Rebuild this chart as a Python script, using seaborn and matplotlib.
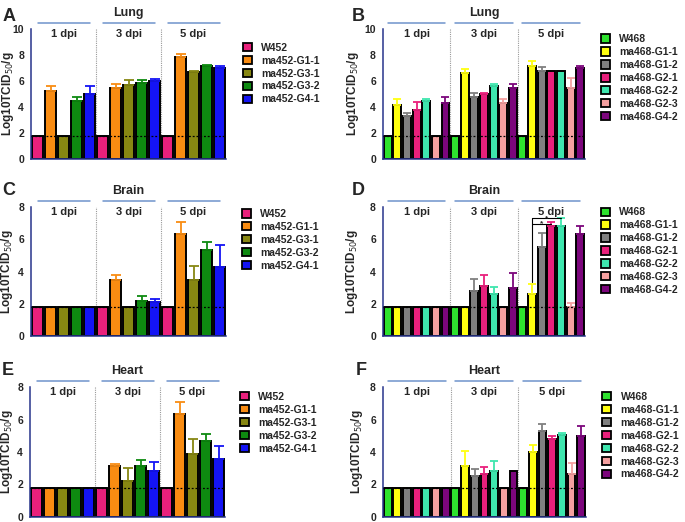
#VIRUS TITERS IN ORGANS - ma452 / ma468 PANELS

import pandas as pd
import matplotlib.pyplot as plt
import seaborn as sns
import numpy as np
from matplotlib.patches import Patch

sns.set_style("white")
plt.rcParams['font.family'] = ['Liberation Sans', 'DejaVu Sans']

#--------------------------------------------------------------------
# DATA

dpi_labels = ["1 dpi", "3 dpi", "5 dpi"]

groups452 = ["W452", "ma452-G1-1", "ma452-G3-1", "ma452-G3-2", "ma452-G4-1"]
colors452 = ["#e9207c", "#f98c12", "#878712", "#0e8a10", "#1414f5"]

groups468 = ["W468", "ma468-G1-1", "ma468-G1-2", "ma468-G2-1",
             "ma468-G2-2", "ma468-G2-3", "ma468-G4-2"]
colors468 = ["#2ee22e", "#ffff10", "#808080", "#e9207c",
             "#3ee6ae", "#f5a0a0", "#7c067c"]

# means, ordered 1 dpi / 3 dpi / 5 dpi
lung452_mean = [1.8, 5.2, 1.8, 4.5, 5.0,
                1.8, 5.5, 5.7, 5.85, 6.0,
                1.8, 7.85, 6.7, 7.15, 7.0]
lung452_sd = [0, 0.4, 0, 0.3, 0.6,
              0, 0.3, 0.35, 0.2, 0.15,
              0, 0.25, 0.1, 0.1, 0.15]

brain452_mean = [1.8, 1.8, 1.8, 1.8, 1.8,
                 1.8, 3.46, 1.8, 2.16, 2.14,
                 1.8, 6.33, 3.46, 5.33, 4.3]
brain452_sd = [0, 0, 0, 0, 0,
               0, 0.34, 0, 0.33, 0.16,
               0, 0.74, 0.9, 0.5, 1.32]

heart452_mean = [1.8, 1.8, 1.8, 1.8, 1.8,
                 1.8, 3.14, 2.2, 3.14, 2.85,
                 1.8, 6.34, 3.86, 4.68, 3.55]
heart452_sd = [0, 0, 0, 0, 0,
               0, 0.15, 0.8, 0.35, 0.55,
               0, 0.74, 0.96, 0.42, 0.85]

lung468_mean = [1.8, 4.15, 3.3, 3.8, 4.5, 1.8, 4.3,
                1.8, 6.65, 4.8, 5.0, 5.65, 4.3, 5.5,
                1.8, 7.15, 6.8, 6.8, 6.8, 5.5, 7.0]
lung468_sd = [0, 0.45, 0.25, 0.6, 0.1, 0, 0.5,
              0, 0.3, 0.25, 0.1, 0.1, 0.3, 0.3,
              0, 0.4, 0.25, 0, 0, 0.7, 0.15]

brain468_mean = [1.8, 1.8, 1.8, 1.8, 1.8, 1.8, 1.8,
                 1.8, 1.8, 2.8, 3.1, 2.63, 1.8, 2.95,
                 1.8, 2.63, 5.5, 6.83, 6.83, 1.8, 6.3]
brain468_sd = [0, 0, 0, 0, 0, 0, 0,
               0, 0, 0.75, 0.7, 0.42, 0, 0.95,
               0, 0.6, 0.9, 0.27, 0.47, 0.25, 0.55]

heart468_mean = [1.8, 1.8, 1.8, 1.8, 1.8, 1.8, 1.8,
                 1.8, 3.15, 2.5, 2.63, 2.84, 1.8, 2.82,
                 1.8, 3.97, 5.29, 4.8, 5.07, 2.62, 5.0]
heart468_sd = [0, 0, 0, 0, 0, 0, 0,
               0, 0.9, 0.45, 0.47, 0.59, 0, 0,
               0, 0.46, 0.44, 0.2, 0.13, 0.68, 0.6]

detect_limit = 1.8

# significance brackets in panel D (bar index from, bar index to, height)
sig_brackets = [(15, 18, 7.3), (15, 17, 6.98)]

#--------------------------------------------------------------------
# PANEL FUNCTION

navy = "#27348b"

def draw_panel(ax, organ, groups, colors, means, sds, ymax, leg_top, leg_left, cap):
    n = len(means)
    k = len(groups)
    names = [g + " " + d for d in dpi_labels for g in groups]
    bar_colors = colors * 3
    df = pd.DataFrame({"bar": names, "value": means})
    sns.barplot(data=df, x="bar", y="value", hue="bar", order=names,
                palette=dict(zip(names, bar_colors)), legend=False,
                width=0.82, edgecolor="black", linewidth=1.4,
                saturation=1, errorbar=None, ax=ax)

    # upper error bars only
    for i in range(n):
        if sds[i] > 0:
            ax.errorbar(i, means[i], yerr=[[0], [sds[i]]], fmt="none",
                        ecolor=bar_colors[i], elinewidth=1.3,
                        capsize=cap, capthick=1.3, zorder=1)

    ax.axhline(detect_limit, color="black", linestyle=(0, (1.5, 1.5)),
               linewidth=0.9, zorder=5)
    for j in range(1, 3):
        ax.axvline(j * k - 0.5, color="#9a9a9a", linestyle=(0, (1, 1)),
                   linewidth=0.8, zorder=0)

    # dpi header lines and labels
    for j in range(3):
        x0 = j * k
        x1 = j * k + k - 1
        ax.plot([x0, x1], [1.046, 1.046], color="#6f93cc", linewidth=1.1,
                transform=ax.get_xaxis_transform(), clip_on=False)
        ax.text((x0 + x1) / 2, 0.965, dpi_labels[j], ha="center", va="center",
                fontsize=8, fontweight="bold",
                transform=ax.get_xaxis_transform())

    ax.set_title(organ, fontsize=9, fontweight="bold", y=1.1, pad=0)

    ax.set_xlim(-0.5, n - 0.5)
    ax.set_ylim(0, ymax)
    ax.set_yticks(np.arange(0, ymax + 1, 2))
    ax.set_xticks(range(n))
    ax.set_xticklabels([""] * n)
    ax.set_xlabel("")
    ax.set_ylabel("Log10TCID$_{50}$/g", fontsize=8.5, fontweight="bold")
    for lab in ax.get_yticklabels():
        lab.set_fontweight("bold")
        lab.set_fontsize(7.5)
    ax.tick_params(axis="both", direction="out", length=3.5, width=1,
                   color=navy, pad=1.5)
    ax.spines["top"].set_visible(False)
    ax.spines["right"].set_visible(False)
    ax.spines["left"].set_color(navy)
    ax.spines["bottom"].set_color(navy)
    ax.spines["left"].set_linewidth(1.1)
    ax.spines["bottom"].set_linewidth(1.1)

    handles = [Patch(facecolor=c, edgecolor="black", linewidth=1.3, label=g)
               for g, c in zip(groups, colors)]
    ax.legend(handles=handles, loc="upper left",
              bbox_to_anchor=(leg_left, leg_top), frameon=False,
              borderaxespad=0, borderpad=0, handlelength=0.85,
              handleheight=0.85, handletextpad=0.9, labelspacing=0.28,
              prop={"weight": "bold", "size": 7.5})

#--------------------------------------------------------------------
# FIGURE

fig = plt.figure(figsize=(6.85, 5.22), dpi=100)

axA = fig.add_axes([0.0453, 0.6954, 0.2847, 0.249])
axB = fig.add_axes([0.559, 0.6954, 0.295, 0.249])
axC = fig.add_axes([0.0453, 0.3563, 0.2847, 0.247])
axD = fig.add_axes([0.559, 0.3563, 0.295, 0.247])
axE = fig.add_axes([0.0438, 0.0096, 0.2847, 0.249])
axF = fig.add_axes([0.559, 0.0096, 0.2965, 0.249])

draw_panel(axA, "Lung", groups452, colors452, lung452_mean, lung452_sd, 10, 0.895, 1.087, 3.6)
draw_panel(axB, "Lung", groups468, colors468, lung468_mean, lung468_sd, 10, 0.96, 1.08, 2.9)
draw_panel(axC, "Brain", groups452, colors452, brain452_mean, brain452_sd, 8, 0.985, 1.08, 3.6)
draw_panel(axD, "Brain", groups468, colors468, brain468_mean, brain468_sd, 8, 0.998, 1.08, 2.9)
draw_panel(axE, "Heart", groups452, colors452, heart452_mean, heart452_sd, 8, 0.962, 1.075, 3.6)
draw_panel(axF, "Heart", groups468, colors468, heart468_mean, heart468_sd, 8, 0.962, 1.08, 2.9)

for ax, lx in [(axA, -0.077), (axC, -0.082), (axE, -0.077),
               (axB, -0.109), (axD, -0.114), (axF, -0.088)]:
    ax.yaxis.set_label_coords(lx, 0.5)

# significance brackets (panel D)
x_start = sig_brackets[0][0]
axD.plot([x_start, x_start], [brain468_mean[x_start] + brain468_sd[x_start] + 0.1,
                              sig_brackets[0][2]], color="black", linewidth=0.8)
for a, b, h in sig_brackets:
    axD.plot([a, b], [h, h], color="black", linewidth=0.8)
    axD.text((a + b) / 2, h - 0.1, "*", ha="center", va="baseline",
             fontsize=6, fontweight="bold")

# panel letters
for letter, x, y in [("A", 0.003, 0.968), ("B", 0.514, 0.968),
                     ("C", 0.003, 0.635), ("D", 0.514, 0.635),
                     ("E", 0.003, 0.29), ("F", 0.519, 0.29)]:
    fig.text(x, y, letter, fontsize=13, fontweight="bold", va="center")

plt.savefig("out.png", dpi=100)
